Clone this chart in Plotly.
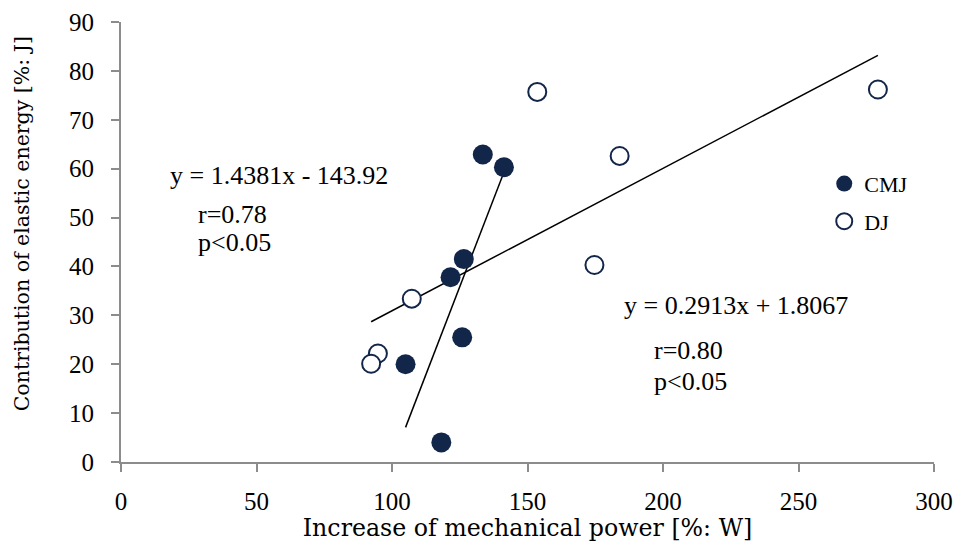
import plotly.graph_objects as go

# CMJ data (filled)
cmj_x = [133.5, 141.3, 126.5, 121.6, 125.9, 105.0, 118.2]
cmj_y = [62.9, 60.3, 41.5, 37.8, 25.5, 20.0, 4.0]
# DJ data (open)
dj_x = [153.6, 107.3, 94.8, 92.3, 279.3, 184.0, 174.7]
dj_y = [75.7, 33.4, 22.2, 20.1, 76.2, 62.6, 40.3]

# regression coefficients (slope, intercept) as printed
cmj_fit = (1.4381, -143.92)
dj_fit = (0.2913, 1.8067)

x_ticks = [0, 50, 100, 150, 200, 250, 300]
y_ticks = [0, 10, 20, 30, 40, 50, 60, 70, 80, 90]

navy = "#12264A"
axis_gray = "#8C8C8C"
times = "Liberation Serif, Times New Roman, serif"
century = "DejaVu Serif, serif"

fig = go.Figure()

def fit_line(xs, coef):
    x0, x1 = min(xs), max(xs)
    return [x0, x1], [coef[0] * x0 + coef[1], coef[0] * x1 + coef[1]]

lx, ly = fit_line(cmj_x, cmj_fit)
fig.add_trace(go.Scatter(x=lx, y=ly, mode="lines", line=dict(color="black", width=1.5),
                         showlegend=False, hoverinfo="skip"))
lx, ly = fit_line(dj_x, dj_fit)
fig.add_trace(go.Scatter(x=lx, y=ly, mode="lines", line=dict(color="black", width=1.5),
                         showlegend=False, hoverinfo="skip"))

fig.add_trace(go.Scatter(x=cmj_x, y=cmj_y, mode="markers", name="CMJ", legendgroup="a",
                         marker=dict(size=20, color=navy, line=dict(width=0))))
fig.add_trace(go.Scatter(x=dj_x, y=dj_y, mode="markers", name="DJ", legendgroup="b",
                         marker=dict(size=18, color="white", line=dict(width=2, color=navy))))

ann_font = dict(family=times, size=26, color="black")
anns = [
    ("y = 1.4381x - 143.92", 17.2, 58.7),
    ("r=0.78", 27.5, 50.7),
    ("p<0.05", 27.5, 44.8),
    ("y = 0.2913x + 1.8067", 185.0, 32.1),
    ("r=0.80", 196.1, 22.9),
    ("p<0.05", 196.1, 16.5),
]
for t, ax_, ay_ in anns:
    fig.add_annotation(x=ax_, y=ay_, text=t, showarrow=False, xanchor="left", yanchor="middle",
                       font=ann_font)

fig.add_annotation(xref="paper", yref="paper", x=-0.122, y=0.542, text="Contribution of elastic energy [%: J]",
                   textangle=-90, showarrow=False, xanchor="center", yanchor="middle",
                   font=dict(family=century, size=20.5, color="black"))

fig.update_layout(
    width=959, height=542,
    margin=dict(l=121, r=25, t=22, b=80, autoexpand=False),
    plot_bgcolor="white", paper_bgcolor="white",
    legend=dict(x=0.865, y=0.68, xanchor="left", yanchor="top", font=dict(family=times, size=22, color="black"),
                tracegroupgap=6, bgcolor="rgba(0,0,0,0)"),
    showlegend=True,
)
fig.update_xaxes(range=[0, 300], tickvals=x_ticks, showgrid=False, zeroline=False, automargin=False,
                 showline=True, linecolor=axis_gray, linewidth=2, ticks="outside", ticklen=8,
                 tickcolor=axis_gray, tickwidth=1.5, ticklabelstandoff=8,
                 tickfont=dict(family=times, size=25, color="black"),
                 title=dict(text="Increase of mechanical power [%: W]", font=dict(family=century, size=23.7, color="black"),
                            standoff=3))
fig.update_yaxes(range=[0, 90], tickvals=y_ticks, showgrid=False, zeroline=False, automargin=False,
                 showline=True, linecolor=axis_gray, linewidth=2, ticks="outside", ticklen=8,
                 tickcolor=axis_gray, tickwidth=1.5, ticklabelstandoff=12,
                 tickfont=dict(family=times, size=25, color="black"))

fig.write_html("out.html")
